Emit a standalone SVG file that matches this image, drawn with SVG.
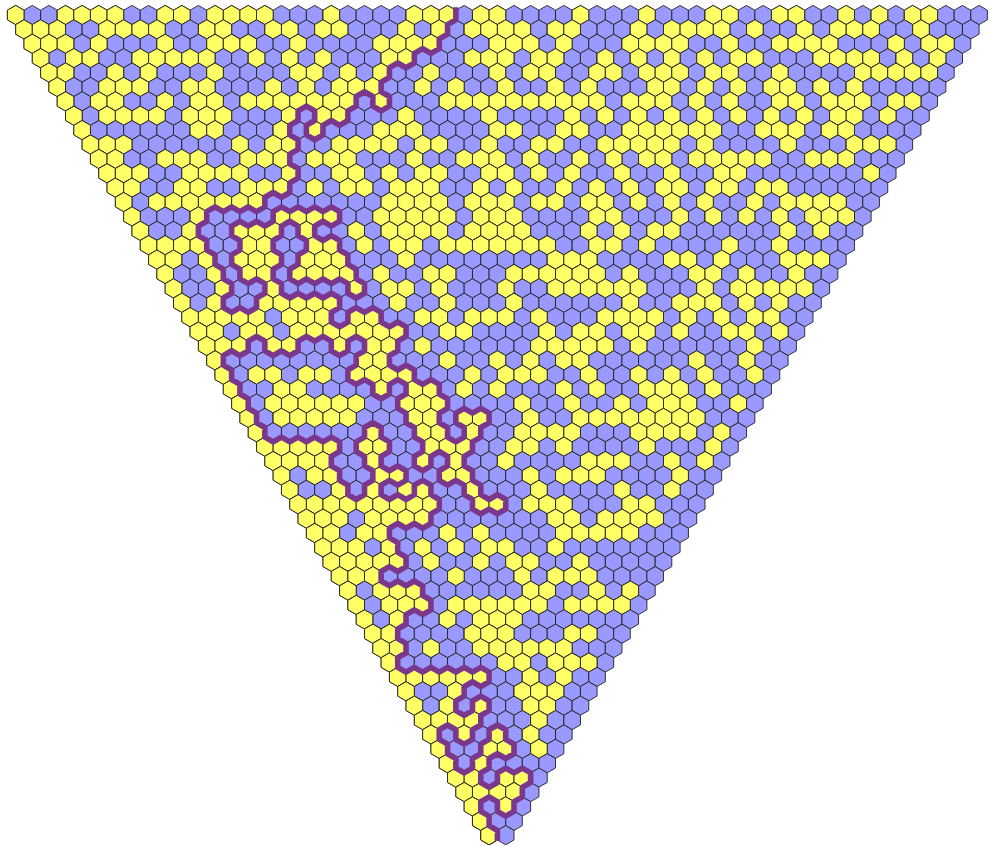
<svg xmlns="http://www.w3.org/2000/svg" width="990" height="846" viewBox="0 0 990 846">
<style>
path{fill:none}
.b{marker:url(#B)}
.y{marker:url(#Y)}
#B path{fill:#99f;stroke:#222;stroke-width:.055}
#Y path{fill:#ff6;stroke:#222;stroke-width:.055}
#trace path{stroke:#7b378c;stroke-width:5.6;stroke-linejoin:round;vector-effect:non-scaling-stroke}
</style>
<defs>
<marker id="B" markerUnits="userSpaceOnUse" overflow="visible"><path d="M0-.577.5-.289V.289L0 .577-.5.289V-.289Z"/></marker>
<marker id="Y" markerUnits="userSpaceOnUse" overflow="visible"><path d="M0-.577.5-.289V.289L0 .577-.5.289V-.289Z"/></marker>
</defs>
<rect width="990" height="846" fill="#fff"/>
<g id="cells" transform="translate(15.7 15) scale(16.61)">
<g id="r0"><path class="b" d="M0 0h1 1 1 1 1 1 1 1 1 1  1 1 1 1 1 1 1 1 1 1  1 1 1 1 1 1 1 1 1 1  1 1 1 1 1 1 1 1 1 1  1 1 1 1 1 1 1 1 1 1  1 1 1 1 1 1 1 1"/><path class="y" d="M0 0H3 4 5 6 9 10 12 13 14 15 19 24 25 26 28 29 34 38 42 43 46 47 50 52 54 55"/></g>
<g id="r1" transform="translate(.5 .866)"><path class="b" d="M0 0h1 1 1 1 1 1 1 1 1 1  1 1 1 1 1 1 1 1 1 1  1 1 1 1 1 1 1 1 1 1  1 1 1 1 1 1 1 1 1 1  1 1 1 1 1 1 1 1 1 1  1 1 1 1 1 1 1"/><path class="y" d="M0 0H1 2 5 6 7 8 11 12 15 16 18 19 23 25 27 28 29 30 32 33 37 39 40 41 42 44 47 49 50 51 54"/></g>
<g id="r2" transform="translate(1 1.733)"><path class="b" d="M0 0h1 1 1 1 1 1 1 1 1 1  1 1 1 1 1 1 1 1 1 1  1 1 1 1 1 1 1 1 1 1  1 1 1 1 1 1 1 1 1 1  1 1 1 1 1 1 1 1 1 1  1 1 1 1 1 1"/><path class="y" d="M0 0H1 2 4 8 11 12 13 16 21 22 23 24 28 29 30 32 36 37 38 39 42 45 46 47 48 52 54 55"/></g>
<g id="r3" transform="translate(1.5 2.599)"><path class="b" d="M0 0h1 1 1 1 1 1 1 1 1 1  1 1 1 1 1 1 1 1 1 1  1 1 1 1 1 1 1 1 1 1  1 1 1 1 1 1 1 1 1 1  1 1 1 1 1 1 1 1 1 1  1 1 1 1 1"/><path class="y" d="M0 0H2 3 6 7 8 9 10 13 15 17 21 22 26 27 28 30 31 34 36 38 40 42 43 47 48 49 50 52 54"/></g>
<g id="r4" transform="translate(2 3.465)"><path class="b" d="M0 0h1 1 1 1 1 1 1 1 1 1  1 1 1 1 1 1 1 1 1 1  1 1 1 1 1 1 1 1 1 1  1 1 1 1 1 1 1 1 1 1  1 1 1 1 1 1 1 1 1 1  1 1 1 1"/><path class="y" d="M0 0H1 4 6 10 15 16 18 20 23 27 29 30 33 34 36 37 38 40 41 44 49 50 51 52 53"/></g>
<g id="r5" transform="translate(2.5 4.332)"><path class="b" d="M0 0h1 1 1 1 1 1 1 1 1 1  1 1 1 1 1 1 1 1 1 1  1 1 1 1 1 1 1 1 1 1  1 1 1 1 1 1 1 1 1 1  1 1 1 1 1 1 1 1 1 1  1 1 1"/><path class="y" d="M0 0H3 4 5 8 9 13 15 17 18 19 22 24 27 30 32 36 37 39 41 43 44 46 48"/></g>
<g id="r6" transform="translate(3 5.198)"><path class="b" d="M0 0h1 1 1 1 1 1 1 1 1 1  1 1 1 1 1 1 1 1 1 1  1 1 1 1 1 1 1 1 1 1  1 1 1 1 1 1 1 1 1 1  1 1 1 1 1 1 1 1 1 1  1 1"/><path class="y" d="M0 0H2 3 6 8 9 11 12 13 14 15 16 17 19 23 24 25 26 27 28 29 30 31 32 34 35 36 38 40 43 44 46 47 48 50 51"/></g>
<g id="r7" transform="translate(3.5 6.064)"><path class="b" d="M0 0h1 1 1 1 1 1 1 1 1 1  1 1 1 1 1 1 1 1 1 1  1 1 1 1 1 1 1 1 1 1  1 1 1 1 1 1 1 1 1 1  1 1 1 1 1 1 1 1 1 1  1"/><path class="y" d="M0 0H2 3 4 5 7 8 9 13 15 16 20 25 30 32 34 36 38 40 42 44 46 47 49"/></g>
<g id="r8" transform="translate(4 6.93)"><path class="b" d="M0 0h1 1 1 1 1 1 1 1 1 1  1 1 1 1 1 1 1 1 1 1  1 1 1 1 1 1 1 1 1 1  1 1 1 1 1 1 1 1 1 1  1 1 1 1 1 1 1 1 1 1"/><path class="y" d="M0 0H7 8 12 14 18 19 20 25 26 29 30 33 34 35 36 37 38 41 42 43 45 46"/></g>
<g id="r9" transform="translate(4.5 7.797)"><path class="b" d="M0 0h1 1 1 1 1 1 1 1 1 1  1 1 1 1 1 1 1 1 1 1  1 1 1 1 1 1 1 1 1 1  1 1 1 1 1 1 1 1 1 1  1 1 1 1 1 1 1 1 1"/><path class="y" d="M0 0H1 2 9 11 12 15 16 17 18 20 21 24 27 28 31 32 33 34 35 37 42 46 47 48"/></g>
<g id="r10" transform="translate(5 8.663)"><path class="b" d="M0 0h1 1 1 1 1 1 1 1 1 1  1 1 1 1 1 1 1 1 1 1  1 1 1 1 1 1 1 1 1 1  1 1 1 1 1 1 1 1 1 1  1 1 1 1 1 1 1 1"/><path class="y" d="M0 0H1 4 5 6 9 10 11 13 14 15 19 22 23 24 26 29 31 33 34 36 37 38 39 40 43 44 45"/></g>
<g id="r11" transform="translate(5.5 9.529)"><path class="b" d="M0 0h1 1 1 1 1 1 1 1 1 1  1 1 1 1 1 1 1 1 1 1  1 1 1 1 1 1 1 1 1 1  1 1 1 1 1 1 1 1 1 1  1 1 1 1 1 1 1"/><path class="y" d="M0 0H1 2 5 6 7 8 11 14 15 17 19 20 23 24 26 28 31 34 37 38 46"/></g>
<g id="r12" transform="translate(6 10.396)"><path class="b" d="M0 0h1 1 1 1 1 1 1 1 1 1  1 1 1 1 1 1 1 1 1 1  1 1 1 1 1 1 1 1 1 1  1 1 1 1 1 1 1 1 1 1  1 1 1 1 1 1"/><path class="y" d="M0 0H1 4 5 8 9 10 12 14 15 17 18 19 22 24 27 29 31 33 34 36 37 39 40"/></g>
<g id="r13" transform="translate(6.5 11.262)"><path class="b" d="M0 0h1 1 1 1 1 1 1 1 1 1  1 1 1 1 1 1 1 1 1 1  1 1 1 1 1 1 1 1 1 1  1 1 1 1 1 1 1 1 1 1  1 1 1 1 1"/><path class="y" d="M0 0H2 3 4 5 6 7 8 16 17 18 19 21 22 23 25 26 28 29 31 33 35 38 40 41 42 43"/></g>
<g id="r14" transform="translate(7 12.128)"><path class="b" d="M0 0h1 1 1 1 1 1 1 1 1 1  1 1 1 1 1 1 1 1 1 1  1 1 1 1 1 1 1 1 1 1  1 1 1 1 1 1 1 1 1 1  1 1 1 1"/><path class="y" d="M0 0H4 9 10 11 12 15 16 17 18 19 21 22 23 28 29 33 35 37 39 41 42 43"/></g>
<g id="r15" transform="translate(7.5 12.995)"><path class="b" d="M0 0h1 1 1 1 1 1 1 1 1 1  1 1 1 1 1 1 1 1 1 1  1 1 1 1 1 1 1 1 1 1  1 1 1 1 1 1 1 1 1 1  1 1 1"/><path class="y" d="M0 0H3 6 7 8 10 13 15 16 17 18 20 21 22 23 27 29 31 32 39 41"/></g>
<g id="r16" transform="translate(8 13.861)"><path class="b" d="M0 0h1 1 1 1 1 1 1 1 1 1  1 1 1 1 1 1 1 1 1 1  1 1 1 1 1 1 1 1 1 1  1 1 1 1 1 1 1 1 1 1  1 1"/><path class="y" d="M0 0H1 2 3 6 7 10 11 13 15 16 18 19 20 21 22 23 24 27 28 30 35 38"/></g>
<g id="r17" transform="translate(8.5 14.727)"><path class="b" d="M0 0h1 1 1 1 1 1 1 1 1 1  1 1 1 1 1 1 1 1 1 1  1 1 1 1 1 1 1 1 1 1  1 1 1 1 1 1 1 1 1 1  1"/><path class="y" d="M0 0H1 3 5 6 7 9 10 11 15 24 25 26 31 32 34 38 39 40"/></g>
<g id="r18" transform="translate(9 15.593)"><path class="b" d="M0 0h1 1 1 1 1 1 1 1 1 1  1 1 1 1 1 1 1 1 1 1  1 1 1 1 1 1 1 1 1 1  1 1 1 1 1 1 1 1 1 1"/><path class="y" d="M0 0H3 5 6 8 9 10 11 13 16 17 21 22 23 24 25 26 28 32 33 35 38"/></g>
<g id="r19" transform="translate(9.5 16.46)"><path class="b" d="M0 0h1 1 1 1 1 1 1 1 1 1  1 1 1 1 1 1 1 1 1 1  1 1 1 1 1 1 1 1 1 1  1 1 1 1 1 1 1 1 1"/><path class="y" d="M0 0H3 6 11 13 14 16 20 23 24 25 26 27 28 32 34 35 36 37 38"/></g>
<g id="r20" transform="translate(10 17.326)"><path class="b" d="M0 0h1 1 1 1 1 1 1 1 1 1  1 1 1 1 1 1 1 1 1 1  1 1 1 1 1 1 1 1 1 1  1 1 1 1 1 1 1 1"/><path class="y" d="M0 0H2 5 6 7 8 9 13 16 20 27 30 31 32 34 36"/></g>
<g id="r21" transform="translate(10.5 18.192)"><path class="b" d="M0 0h1 1 1 1 1 1 1 1 1 1  1 1 1 1 1 1 1 1 1 1  1 1 1 1 1 1 1 1 1 1  1 1 1 1 1 1 1"/><path class="y" d="M0 0H1 2 3 4 6 7 8 10 11 14 15 17 18 19 21 25 26 27 28 30 32 34 35"/></g>
<g id="r22" transform="translate(11 19.059)"><path class="b" d="M0 0h1 1 1 1 1 1 1 1 1 1  1 1 1 1 1 1 1 1 1 1  1 1 1 1 1 1 1 1 1 1  1 1 1 1 1 1"/><path class="y" d="M0 0H1 3 4 6 7 8 9 10 11 12 15 16 21 23 24 26 27 29 32 33 35"/></g>
<g id="r23" transform="translate(11.5 19.925)"><path class="b" d="M0 0h1 1 1 1 1 1 1 1 1 1  1 1 1 1 1 1 1 1 1 1  1 1 1 1 1 1 1 1 1 1  1 1 1 1 1"/><path class="y" d="M0 0H1 2 4 5 8 10 11 13 20 21 22 23 24 26 33"/></g>
<g id="r24" transform="translate(12 20.791)"><path class="b" d="M0 0h1 1 1 1 1 1 1 1 1 1  1 1 1 1 1 1 1 1 1 1  1 1 1 1 1 1 1 1 1 1  1 1 1 1"/><path class="y" d="M0 0H9 10 14 17 19 21 22 29 32"/></g>
<g id="r25" transform="translate(12.5 21.658)"><path class="b" d="M0 0h1 1 1 1 1 1 1 1 1 1  1 1 1 1 1 1 1 1 1 1  1 1 1 1 1 1 1 1 1 1  1 1 1"/><path class="y" d="M0 0H2 3 5 6 8 9 10 11 15 17 18 19 22 25 27 29 32"/></g>
<g id="r26" transform="translate(13 22.524)"><path class="b" d="M0 0h1 1 1 1 1 1 1 1 1 1  1 1 1 1 1 1 1 1 1 1  1 1 1 1 1 1 1 1 1 1  1 1"/><path class="y" d="M0 0H3 4 9 11 12 14 16 20 22 25 26 27 29"/></g>
<g id="r27" transform="translate(13.5 23.39)"><path class="b" d="M0 0h1 1 1 1 1 1 1 1 1 1  1 1 1 1 1 1 1 1 1 1  1 1 1 1 1 1 1 1 1 1  1"/><path class="y" d="M0 0H2 3 4 5 6 7 10 11 12 17 20 23 25 26 27 30"/></g>
<g id="r28" transform="translate(14 24.256)"><path class="b" d="M0 0h1 1 1 1 1 1 1 1 1 1  1 1 1 1 1 1 1 1 1 1  1 1 1 1 1 1 1 1 1 1"/><path class="y" d="M0 0H2 3 4 5 6 10 11 13 14 17 20 21 22 23 24 25 26 27"/></g>
<g id="r29" transform="translate(14.5 25.123)"><path class="b" d="M0 0h1 1 1 1 1 1 1 1 1 1  1 1 1 1 1 1 1 1 1 1  1 1 1 1 1 1 1 1 1"/><path class="y" d="M0 0H7 10 11 13 16 17 18 19 23 24 25 26 28"/></g>
<g id="r30" transform="translate(15 25.989)"><path class="b" d="M0 0h1 1 1 1 1 1 1 1 1 1  1 1 1 1 1 1 1 1 1 1  1 1 1 1 1 1 1 1"/><path class="y" d="M0 0H1 2 3 4 6 7 10 11 12 15 16 18 23 27"/></g>
<g id="r31" transform="translate(15.5 26.855)"><path class="b" d="M0 0h1 1 1 1 1 1 1 1 1 1  1 1 1 1 1 1 1 1 1 1  1 1 1 1 1 1 1"/><path class="y" d="M0 0H1 2 3 6 9 11 14 19 20 21 24 26"/></g>
<g id="r32" transform="translate(16 27.722)"><path class="b" d="M0 0h1 1 1 1 1 1 1 1 1 1  1 1 1 1 1 1 1 1 1 1  1 1 1 1 1 1"/><path class="y" d="M0 0H2 3 6 7 10 11 15 17 18 19 24"/></g>
<g id="r33" transform="translate(16.5 28.588)"><path class="b" d="M0 0h1 1 1 1 1 1 1 1 1 1  1 1 1 1 1 1 1 1 1 1  1 1 1 1 1"/><path class="y" d="M0 0H3 5 7 8 11 15 20 23"/></g>
<g id="r34" transform="translate(17 29.454)"><path class="b" d="M0 0h1 1 1 1 1 1 1 1 1 1  1 1 1 1 1 1 1 1 1 1  1 1 1 1"/><path class="y" d="M0 0H1 2 3 4 5 6 7 8 11 12 14 15 16 20 21"/></g>
<g id="r35" transform="translate(17.5 30.321)"><path class="b" d="M0 0h1 1 1 1 1 1 1 1 1 1  1 1 1 1 1 1 1 1 1 1  1 1 1"/><path class="y" d="M0 0H1 2 4 5 6 7 15 16 18 19 20 21"/></g>
<g id="r36" transform="translate(18 31.187)"><path class="b" d="M0 0h1 1 1 1 1 1 1 1 1 1  1 1 1 1 1 1 1 1 1 1  1 1"/><path class="y" d="M0 0H1 3 4 8 10 15 16 17 18 19"/></g>
<g id="r37" transform="translate(18.5 32.053)"><path class="b" d="M0 0h1 1 1 1 1 1 1 1 1 1  1 1 1 1 1 1 1 1 1 1  1"/><path class="y" d="M0 0H1 2 4 6 8 10 11 14"/></g>
<g id="r38" transform="translate(19 32.919)"><path class="b" d="M0 0h1 1 1 1 1 1 1 1 1 1  1 1 1 1 1 1 1 1 1 1"/><path class="y" d="M0 0H1 2 3 4 6 9 11 12 15"/></g>
<g id="r39" transform="translate(19.5 33.786)"><path class="b" d="M0 0h1 1 1 1 1 1 1 1 1 1  1 1 1 1 1 1 1 1 1"/><path class="y" d="M0 0H1 2 7 11 13 14 15"/></g>
<g id="r40" transform="translate(20 34.652)"><path class="b" d="M0 0h1 1 1 1 1 1 1 1 1 1  1 1 1 1 1 1 1 1"/><path class="y" d="M0 0H2 3 4 11 12 15 17"/></g>
<g id="r41" transform="translate(20.5 35.518)"><path class="b" d="M0 0h1 1 1 1 1 1 1 1 1 1  1 1 1 1 1 1 1"/><path class="y" d="M0 0H2 3 4 6 7 8 9 10 11 13 14 15 16"/></g>
<g id="r42" transform="translate(21 36.385)"><path class="b" d="M0 0h1 1 1 1 1 1 1 1 1 1  1 1 1 1 1 1"/><path class="y" d="M0 0H2 5 7 8 9"/></g>
<g id="r43" transform="translate(21.5 37.251)"><path class="b" d="M0 0h1 1 1 1 1 1 1 1 1 1  1 1 1 1 1"/><path class="y" d="M0 0H1 6 7 8 12 13"/></g>
<g id="r44" transform="translate(22 38.117)"><path class="b" d="M0 0h1 1 1 1 1 1 1 1 1 1  1 1 1 1"/><path class="y" d="M0 0H1 3 6 7 8 9 10 11"/></g>
<g id="r45" transform="translate(22.5 38.984)"><path class="b" d="M0 0h1 1 1 1 1 1 1 1 1 1  1 1 1"/><path class="y" d="M0 0H7 8 10 11 12"/></g>
<g id="r46" transform="translate(23 39.85)"><path class="b" d="M0 0h1 1 1 1 1 1 1 1 1 1  1 1"/><path class="y" d="M0 0H1 2 3 4 5 8 10"/></g>
<g id="r47" transform="translate(23.5 40.716)"><path class="b" d="M0 0h1 1 1 1 1 1 1 1 1 1  1"/><path class="y" d="M0 0H3 7 8 9"/></g>
<g id="r48" transform="translate(24 41.582)"><path class="b" d="M0 0h1 1 1 1 1 1 1 1 1 1"/><path class="y" d="M0 0H2 4 7 8"/></g>
<g id="r49" transform="translate(24.5 42.449)"><path class="b" d="M0 0h1 1 1 1 1 1 1 1 1"/><path class="y" d="M0 0H1 2 3 7"/></g>
<g id="r50" transform="translate(25 43.315)"><path class="b" d="M0 0h1 1 1 1 1 1 1 1"/><path class="y" d="M0 0H2 4 6"/></g>
<g id="r51" transform="translate(25.5 44.181)"><path class="b" d="M0 0h1 1 1 1 1 1 1"/><path class="y" d="M0 0H3 4 6"/></g>
<g id="r52" transform="translate(26 45.048)"><path class="b" d="M0 0h1 1 1 1 1 1"/><path class="y" d="M0 0H2"/></g>
<g id="r53" transform="translate(26.5 45.914)"><path class="b" d="M0 0h1 1 1 1 1"/><path class="y" d="M0 0H1 3 4"/></g>
<g id="r54" transform="translate(27 46.78)"><path class="b" d="M0 0h1 1 1 1"/><path class="y" d="M0 0H1 2 3"/></g>
<g id="r55" transform="translate(27.5 47.647)"><path class="b" d="M0 0h1 1 1"/><path class="y" d="M0 0H2"/></g>
<g id="r56" transform="translate(28 48.513)"><path class="b" d="M0 0h1 1"/><path class="y" d="M0 0H0"/></g>
<g id="r57" transform="translate(28.5 49.379)"><path class="b" d="M0 0h1"/><path class="y" d="M0 0H0"/></g>
</g>
<g id="trace" transform="translate(15.7 15) scale(8.305 4.797)"><path d="M53-1.6 53 1 52 2 52 4 51 5 51 7 50 8 49 7 48 8 48 10 47 11 46 10 45 11 45 13 44 14 44 16 45 17 45 19 44 20 43 19 43 17 42 16 41 17 41 19 40 20 40 22 39 23 38 22 37 23 37 25 36 26 35 25 35 23 36 22 36 20 35 19 34 20 34 22 33 23 33 25 34 26 34 28 33 29 33 31 34 32 34 34 33 35 33 37 32 38 31 37 30 38 30 40 29 41 28 40 27 41 26 40 25 41 24 40 23 41 23 43 22 44 22 46 23 47 23 49 24 50 24 52 25 53 25 55 26 56 26 58 25 59 25 61 26 62 27 61 28 62 29 61 29 59 30 58 30 56 29 55 28 56 27 55 27 53 26 52 26 50 27 49 27 47 26 46 26 44 27 43 28 44 29 43 30 44 31 43 31 41 32 40 33 41 34 40 35 41 36 40 37 41 38 40 39 41 39 43 38 44 37 43 36 44 36 46 37 47 38 46 39 47 39 49 40 50 40 52 41 53 41 55 42 56 42 58 41 59 40 58 40 56 39 55 38 56 37 55 36 56 35 55 34 56 33 55 33 53 34 52 34 50 35 49 35 47 34 46 34 44 33 43 32 44 32 46 31 47 31 49 32 50 32 52 31 53 31 55 32 56 32 58 33 59 34 58 35 59 36 58 37 59 38 58 39 59 39 61 38 62 38 64 39 65 40 64 40 62 41 61 42 62 43 61 44 62 44 64 45 65 46 64 47 65 47 67 46 68 46 70 45 71 45 73 46 74 47 73 48 74 48 76 49 77 50 76 51 77 51 79 52 80 52 82 51 83 51 85 52 86 52 88 53 89 54 88 54 86 53 85 53 83 54 82 55 83 56 82 57 83 57 85 56 86 56 88 55 89 55 91 54 92 54 94 55 95 55 97 56 98 56 100 57 101 58 100 59 101 59 103 58 104 57 103 56 104 55 103 55 101 54 100 54 98 53 97 52 98 51 97 51 95 52 94 52 92 51 91 50 92 50 94 49 95 48 94 48 92 49 91 49 89 48 88 48 86 47 85 47 83 46 82 46 80 47 79 47 77 46 76 45 77 45 79 44 80 43 79 43 77 42 76 41 77 40 76 40 74 41 73 41 71 42 70 42 68 41 67 40 68 40 70 39 71 38 70 38 68 37 67 36 68 35 67 34 68 34 70 33 71 32 70 31 71 30 70 30 68 29 67 28 68 28 70 27 71 26 70 25 71 25 73 26 74 26 76 27 77 27 79 28 80 28 82 29 83 29 85 30 86 30 88 31 89 32 88 33 89 34 88 35 89 36 88 37 89 38 88 39 89 39 91 38 92 38 94 39 95 39 97 40 98 40 100 41 101 42 100 42 98 43 97 43 95 42 94 42 92 41 91 41 89 42 88 42 86 43 85 44 86 44 88 45 89 45 91 44 92 44 94 45 95 46 94 47 95 47 97 46 98 45 97 44 98 44 100 45 101 46 100 47 101 48 100 48 98 49 97 50 98 50 100 51 101 51 103 50 104 50 106 49 107 48 106 47 107 46 106 45 107 45 109 46 110 46 112 47 113 47 115 46 116 45 115 44 116 44 118 45 119 46 118 47 119 48 118 49 119 49 121 50 122 50 124 49 125 48 124 47 125 47 127 46 128 46 130 47 131 47 133 46 134 46 136 47 137 48 136 49 137 50 136 51 137 52 136 53 137 54 136 55 137 56 136 57 137 57 139 56 140 55 139 54 140 54 142 53 143 53 145 54 146 55 145 55 143 56 142 57 143 57 145 56 146 56 148 55 149 55 151 54 152 53 151 53 149 52 148 51 149 51 151 52 152 52 154 53 155 53 157 54 158 55 157 55 155 56 154 56 152 57 151 57 149 58 148 59 149 59 151 60 152 60 154 59 155 58 154 57 155 57 157 56 158 56 160 57 161 58 160 58 158 59 157 60 158 61 157 62 158 62 160 61 161 61 163 60 164 60 166 59 167 58 166 58 164 57 163 56 164 56 166 57 167 57 169 58 170 58 172.2"/></g>
</svg>
